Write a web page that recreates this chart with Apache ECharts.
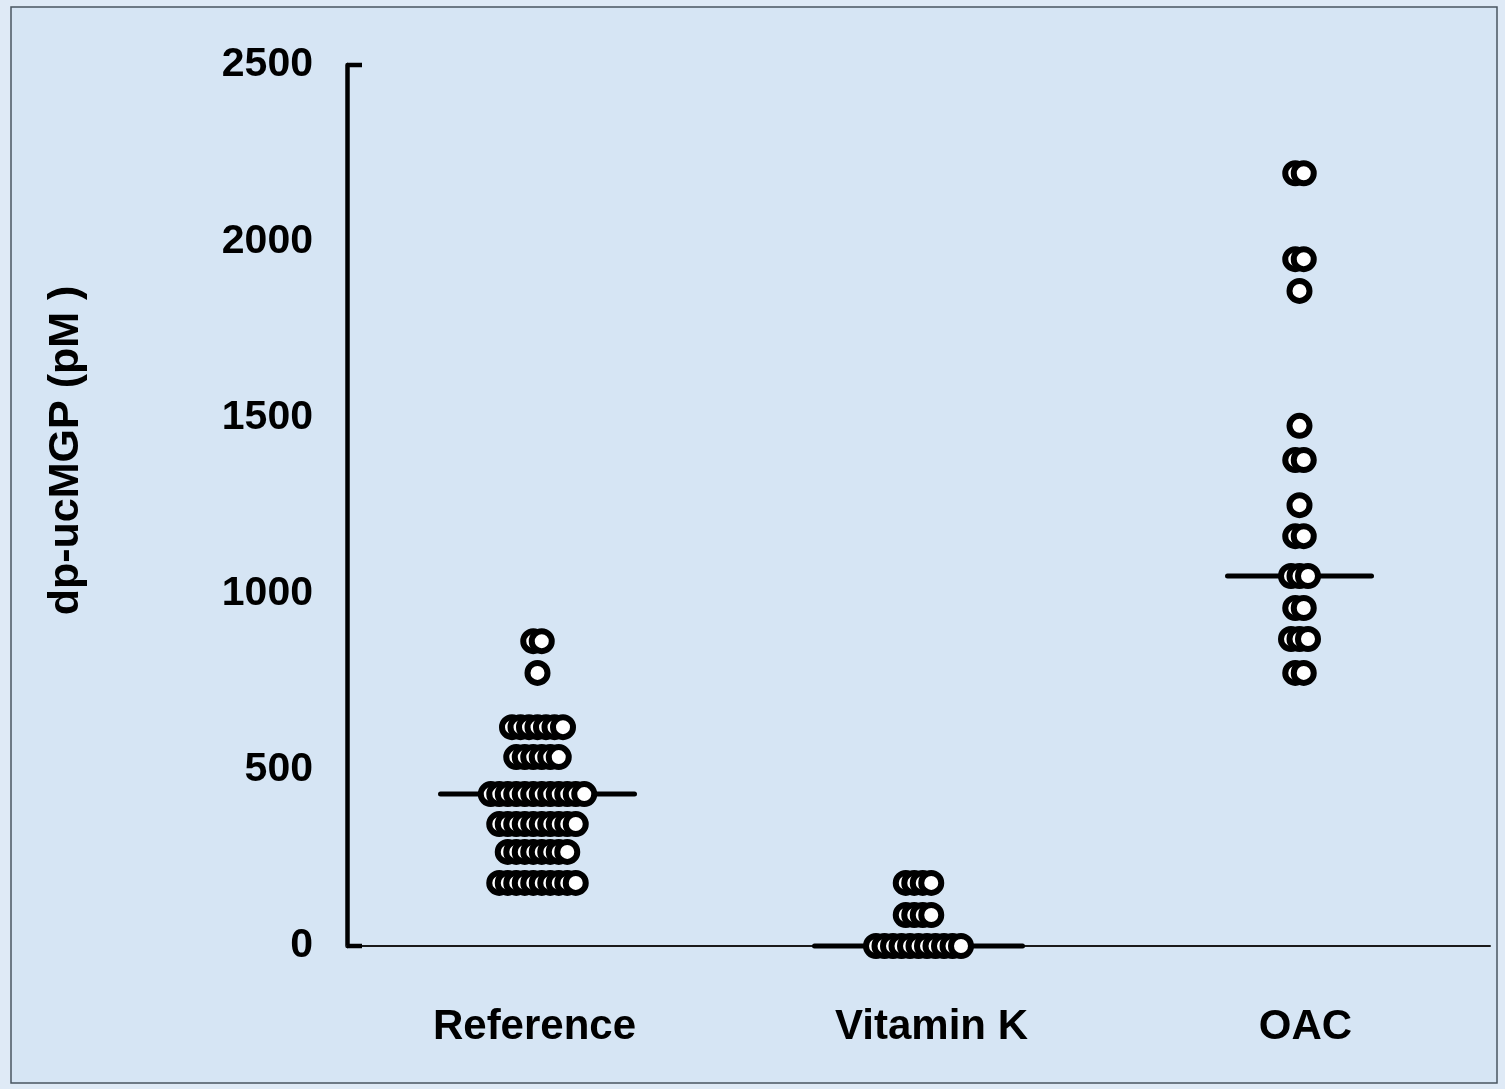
<!DOCTYPE html>
<html>
<head>
<meta charset="utf-8">
<script src="https://cdn.jsdelivr.net/npm/echarts@6/dist/echarts.min.js"></script>
<style>
  html, body { margin: 0; padding: 0; background: #dfeaf6; }
  #chart { width: 1505px; height: 1089px; }
</style>
</head>
<body>
<div id="chart"></div>
<script>
// ---- data ----
const categories = ['Reference', 'Vitamin K', 'OAC'];
const referenceValues = [
  865, 865,
  775,
  621, 621, 621, 621, 621, 621, 621,
  536, 536, 536, 536, 536, 536,
  431, 431, 431, 431, 431, 431, 431, 431, 431, 431, 431, 431,
  346, 346, 346, 346, 346, 346, 346, 346, 346, 346,
  267, 267, 267, 267, 267, 267, 267, 267,
  179, 179, 179, 179, 179, 179, 179, 179, 179, 179
];
const vitaminKValues = [
  179, 179, 179, 179,
  88, 88, 88, 88,
  0, 0, 0, 0, 0, 0, 0, 0, 0, 0, 0
];
const oacValues = [
  2193, 2193,
  1949, 1949,
  1859,
  1476,
  1379, 1379,
  1251,
  1163, 1163,
  1050, 1050, 1050,
  959, 959,
  871, 871, 871,
  775, 775
];
const medians = [431, 0, 1050];
const yMin = 0, yMax = 2500, yInterval = 500;
const yAxisName = 'dp-ucMGP (pM )';

// ---- style ----
const dotSpacing = 8.5;          // px between overlapping dots
const medianHalfWidth = [97, 104, 72]; // px
const labelShift = [-6, 26, 12];       // px of extra padding per category label
const FONT = '"Liberation Sans", Arial, sans-serif';

// build beeswarm rows: offsets in px, drawn left to right
function buildDots(values, catIndex) {
  const counts = new Map();
  values.forEach(v => counts.set(v, (counts.get(v) || 0) + 1));
  const out = [];
  counts.forEach((n, v) => {
    for (let i = 0; i < n; i++) {
      out.push({ value: [catIndex, v], symbolOffset: [(i - (n - 1) / 2) * dotSpacing, 0] });
    }
  });
  return out;
}
const dotData = [].concat(
  buildDots(referenceValues, 0),
  buildDots(vitaminKValues, 1),
  buildDots(oacValues, 2)
);

const labelRich = {};
categories.forEach((c, i) => {
  const s = labelShift[i];
  labelRich['c' + i] = {
    color: '#000', fontSize: 42, fontWeight: 'bold', fontFamily: FONT,
    padding: s >= 0 ? [0, 0, 0, s] : [0, -s, 0, 0]
  };
});

const chart = echarts.init(document.getElementById('chart'), null, { renderer: 'canvas' });
chart.setOption({
  backgroundColor: '#dfeaf6',
  animation: false,
  graphic: [{
    type: 'rect',
    shape: { x: 11, y: 7, width: 1486, height: 1076 },
    style: { fill: '#d6e5f4', stroke: '#4a5560', lineWidth: 1.5 },
    z: -10
  }],
  grid: { left: 347, right: 15, top: 65, bottom: 143, containLabel: false },
  xAxis: {
    type: 'category',
    data: categories,
    boundaryGap: true,
    axisLine: { show: true, lineStyle: { color: '#1a1a1a', width: 2 } },
    axisTick: { show: false },
    axisLabel: {
      interval: 0,
      hideOverlap: false,
      margin: 60, color: '#000', fontSize: 42, fontWeight: 'bold', fontFamily: FONT,
      formatter: function (v, i) { return '{c' + i + '|' + v + '}'; },
      rich: labelRich
    },
    splitLine: { show: false }
  },
  yAxis: {
    type: 'value',
    min: yMin, max: yMax, interval: yInterval,
    name: yAxisName,
    nameLocation: 'middle',
    nameRotate: 90,
    nameGap: 259,
    nameTextStyle: { color: '#000', fontSize: 43, fontWeight: 'bold', fontFamily: FONT, padding: [0, 0, 0, 110] },
    axisLine: { show: true, lineStyle: { color: '#000', width: 4.5 } },
    axisTick: { show: false },
    axisLabel: {
      margin: 34, color: '#000', fontSize: 41, fontWeight: 'bold', fontFamily: FONT,
      formatter: function (v) { return String(v); }
    },
    splitLine: { show: false }
  },
  series: [
    {
      type: 'custom',
      name: 'median',
      data: medians.map((m, i) => [i, m]),
      z: 2,
      renderItem: function (params, api) {
        const i = api.value(0);
        const p = api.coord([i, api.value(1)]);
        const hw = medianHalfWidth[i];
        return {
          type: 'line',
          shape: { x1: p[0] - hw, y1: p[1], x2: p[0] + hw, y2: p[1] },
          style: { stroke: '#000', lineWidth: 5, lineCap: 'round' }
        };
      }
    },
    {
      type: 'custom',
      name: 'axisCaps',
      data: [[0, yMax], [0, yMin]],
      z: 3,
      renderItem: function (params, api) {
        const p = api.coord([0, api.value(1)]);
        const x0 = params.coordSys.x;
        return {
          type: 'line',
          shape: { x1: x0, y1: p[1], x2: x0 + 15, y2: p[1] },
          style: { stroke: '#000', lineWidth: 4.5 }
        };
      }
    },
    {
      type: 'scatter',
      name: 'dots',
      data: dotData,
      z: 5,
      symbol: 'circle',
      symbolSize: 20,
      itemStyle: { color: '#ffffff', borderColor: '#000000', borderWidth: 6, opacity: 1 },
      emphasis: { disabled: true }
    }
  ]
});
</script>
</body>
</html>
